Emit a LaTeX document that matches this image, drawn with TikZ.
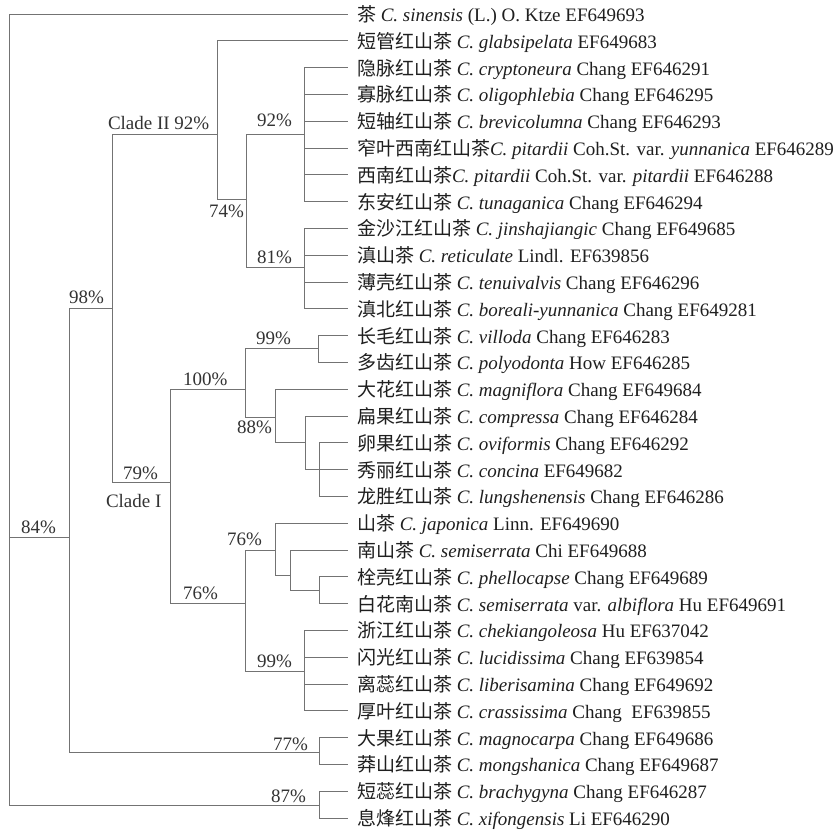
\documentclass[tikz,border=0pt]{standalone}
\usepackage{fontspec}
\setmainfont{Liberation Serif}
\newfontfamily\cjk{Noto Sans CJK SC}
\begin{document}
\begin{tikzpicture}[x=1pt,y=-1pt,
  br/.style={draw=black!55, line width=0.8pt},
  leaflab/.style={anchor=base west, inner sep=0pt, outer sep=0pt, font=\fontsize{19}{22}\selectfont, text=black!88},
  bslab/.style={anchor=base west, inner sep=0pt, outer sep=0pt, font=\fontsize{19}{22}\selectfont, text=black!80}]
\fill[white] (0,0) rectangle (836,830);
\useasboundingbox (0,0) rectangle (836,830);
% leaf tips
\foreach \i in {1,...,31} \coordinate (t\i) at (348,{14+(\i-1)*26.8});
% internal nodes
\coordinate (R) at (9,537);
\coordinate (N84) at (69,537);
\coordinate (N98) at (112,308);
\coordinate (NC2) at (217,134);
\coordinate (N74) at (246,199);
\coordinate (N92) at (304,134);
\coordinate (N81) at (304,267);
\coordinate (NC1) at (170,482);
\coordinate (N100) at (245,389);
\coordinate (N99a) at (318,348);
\coordinate (N88) at (275,417);
\coordinate (Nx) at (305,442);
\coordinate (Ny) at (319,{14+17*26.8});
\coordinate (N76b) at (245,603);
\coordinate (N76a) at (275,550);
\coordinate (Nz) at (290,575);
\coordinate (Nw) at (319,590);
\coordinate (N99b) at (304,671);
\coordinate (N77) at (319,752);
\coordinate (N87) at (319,805);
% branches
\draw[br] (R) |- (t1);
\draw[br] (R) |- (N84);
\draw[br] (R) |- (N87);
\draw[br] (N84) |- (N98);
\draw[br] (N84) |- (N77);
\draw[br] (N98) |- (NC2);
\draw[br] (N98) |- (NC1);
\draw[br] (NC2) |- (t2);
\draw[br] (NC2) |- (N74);
\draw[br] (N74) |- (N92);
\draw[br] (N74) |- (N81);
\foreach \i in {3,...,8} \draw[br] (N92) |- (t\i);
\foreach \i in {9,...,12} \draw[br] (N81) |- (t\i);
\draw[br] (NC1) |- (N100);
\draw[br] (NC1) |- (N76b);
\draw[br] (N100) |- (N99a);
\draw[br] (N100) |- (N88);
\draw[br] (N99a) |- (t13);
\draw[br] (N99a) |- (t14);
\draw[br] (N88) |- (t15);
\draw[br] (N88) |- (Nx);
\draw[br] (Nx) |- (t16);
\draw[br] (Nx) |- (Ny);
\foreach \i in {17,18,19} \draw[br] (Ny) |- (t\i);
\draw[br] (N76b) |- (N76a);
\draw[br] (N76b) |- (N99b);
\draw[br] (N76a) |- (t20);
\draw[br] (N76a) |- (Nz);
\draw[br] (Nz) |- (t21);
\draw[br] (Nz) |- (Nw);
\draw[br] (Nw) |- (t22);
\draw[br] (Nw) |- (t23);
\foreach \i in {24,...,27} \draw[br] (N99b) |- (t\i);
\draw[br] (N77) |- (t28);
\draw[br] (N77) |- (t29);
\draw[br] (N87) |- (t30);
\draw[br] (N87) |- (t31);
% leaf labels
\node[leaflab] (l1) at ([xshift=9pt,yshift=-7.5pt]t1) {{\cjk 茶} \textit{C. sinensis} (L.) O. Ktze EF649693};
\node[leaflab] (l2) at ([xshift=9pt,yshift=-7.5pt]t2) {{\cjk 短管红山茶} \textit{C. glabsipelata} EF649683};
\node[leaflab] (l3) at ([xshift=9pt,yshift=-7.5pt]t3) {{\cjk 隐脉红山茶} \textit{C. cryptoneura} Chang EF646291};
\node[leaflab] (l4) at ([xshift=9pt,yshift=-7.5pt]t4) {{\cjk 寡脉红山茶} \textit{C. oligophlebia} Chang EF646295};
\node[leaflab] (l5) at ([xshift=9pt,yshift=-7.5pt]t5) {{\cjk 短轴红山茶} \textit{C. brevicolumna} Chang EF646293};
\node[leaflab] (l6) at ([xshift=9pt,yshift=-7.5pt]t6) {{\cjk 窄叶西南红山茶}\textit{C. pitardii} Coh.St. var. \textit{yunnanica} EF646289};
\node[leaflab] (l7) at ([xshift=9pt,yshift=-7.5pt]t7) {{\cjk 西南红山茶}\textit{C. pitardii} Coh.St. var. \textit{pitardii} EF646288};
\node[leaflab] (l8) at ([xshift=9pt,yshift=-7.5pt]t8) {{\cjk 东安红山茶} \textit{C. tunaganica} Chang EF646294};
\node[leaflab] (l9) at ([xshift=9pt,yshift=-7.5pt]t9) {{\cjk 金沙江红山茶} \textit{C. jinshajiangic} Chang EF649685};
\node[leaflab] (l10) at ([xshift=9pt,yshift=-7.5pt]t10) {{\cjk 滇山茶} \textit{C. reticulate} Lindl. EF639856};
\node[leaflab] (l11) at ([xshift=9pt,yshift=-7.5pt]t11) {{\cjk 薄壳红山茶} \textit{C. tenuivalvis} Chang EF646296};
\node[leaflab] (l12) at ([xshift=9pt,yshift=-7.5pt]t12) {{\cjk 滇北红山茶} \textit{C. boreali-yunnanica} Chang EF649281};
\node[leaflab] (l13) at ([xshift=9pt,yshift=-7.5pt]t13) {{\cjk 长毛红山茶} \textit{C. villoda} Chang EF646283};
\node[leaflab] (l14) at ([xshift=9pt,yshift=-7.5pt]t14) {{\cjk 多齿红山茶} \textit{C. polyodonta} How EF646285};
\node[leaflab] (l15) at ([xshift=9pt,yshift=-7.5pt]t15) {{\cjk 大花红山茶} \textit{C. magniflora} Chang EF649684};
\node[leaflab] (l16) at ([xshift=9pt,yshift=-7.5pt]t16) {{\cjk 扁果红山茶} \textit{C. compressa} Chang EF646284};
\node[leaflab] (l17) at ([xshift=9pt,yshift=-7.5pt]t17) {{\cjk 卵果红山茶} \textit{C. oviformis} Chang EF646292};
\node[leaflab] (l18) at ([xshift=9pt,yshift=-7.5pt]t18) {{\cjk 秀丽红山茶} \textit{C. concina} EF649682};
\node[leaflab] (l19) at ([xshift=9pt,yshift=-7.5pt]t19) {{\cjk 龙胜红山茶} \textit{C. lungshenensis} Chang EF646286};
\node[leaflab] (l20) at ([xshift=9pt,yshift=-7.5pt]t20) {{\cjk 山茶} \textit{C. japonica} Linn. EF649690};
\node[leaflab] (l21) at ([xshift=9pt,yshift=-7.5pt]t21) {{\cjk 南山茶} \textit{C. semiserrata} Chi EF649688};
\node[leaflab] (l22) at ([xshift=9pt,yshift=-7.5pt]t22) {{\cjk 栓壳红山茶} \textit{C. phellocapse} Chang EF649689};
\node[leaflab] (l23) at ([xshift=9pt,yshift=-7.5pt]t23) {{\cjk 白花南山茶} \textit{C. semiserrata} var. \textit{albiflora} Hu EF649691};
\node[leaflab] (l24) at ([xshift=9pt,yshift=-7.5pt]t24) {{\cjk 浙江红山茶} \textit{C. chekiangoleosa} Hu EF637042};
\node[leaflab] (l25) at ([xshift=9pt,yshift=-7.5pt]t25) {{\cjk 闪光红山茶} \textit{C. lucidissima} Chang EF639854};
\node[leaflab] (l26) at ([xshift=9pt,yshift=-7.5pt]t26) {{\cjk 离蕊红山茶} \textit{C. liberisamina} Chang EF649692};
\node[leaflab] (l27) at ([xshift=9pt,yshift=-7.5pt]t27) {{\cjk 厚叶红山茶} \textit{C. crassissima} Chang\ \ EF639855};
\node[leaflab] (l28) at ([xshift=9pt,yshift=-7.5pt]t28) {{\cjk 大果红山茶} \textit{C. magnocarpa} Chang EF649686};
\node[leaflab] (l29) at ([xshift=9pt,yshift=-7.5pt]t29) {{\cjk 莽山红山茶} \textit{C. mongshanica} Chang EF649687};
\node[leaflab] (l30) at ([xshift=9pt,yshift=-7.5pt]t30) {{\cjk 短蕊红山茶} \textit{C. brachygyna} Chang EF646287};
\node[leaflab] (l31) at ([xshift=9pt,yshift=-7.5pt]t31) {{\cjk 息烽红山茶} \textit{C. xifongensis} Li EF646290};
% support labels
\node[bslab] (sC2) at (108,129.5) {Clade II 92\%};
\node[bslab] (s92) at (257,126) {92\%};
\node[bslab] (s74) at (209,217) {74\%};
\node[bslab] (s81) at (257,263) {81\%};
\node[bslab] (s98) at (69,303) {98\%};
\node[bslab] (s79) at (123,479) {79\%};
\node[bslab] (sC1) at (106,507) {Clade I};
\node[bslab] (s84) at (21,533) {84\%};
\node[bslab] (s100) at (183,385) {100\%};
\node[bslab] (s99a) at (256,344) {99\%};
\node[bslab] (s88) at (237,433) {88\%};
\node[bslab] (s76a) at (227,545) {76\%};
\node[bslab] (s76b) at (183,599) {76\%};
\node[bslab] (s99b) at (257,667) {99\%};
\node[bslab] (s77) at (273,750) {77\%};
\node[bslab] (s87) at (271,802) {87\%};
\end{tikzpicture}
\end{document}
